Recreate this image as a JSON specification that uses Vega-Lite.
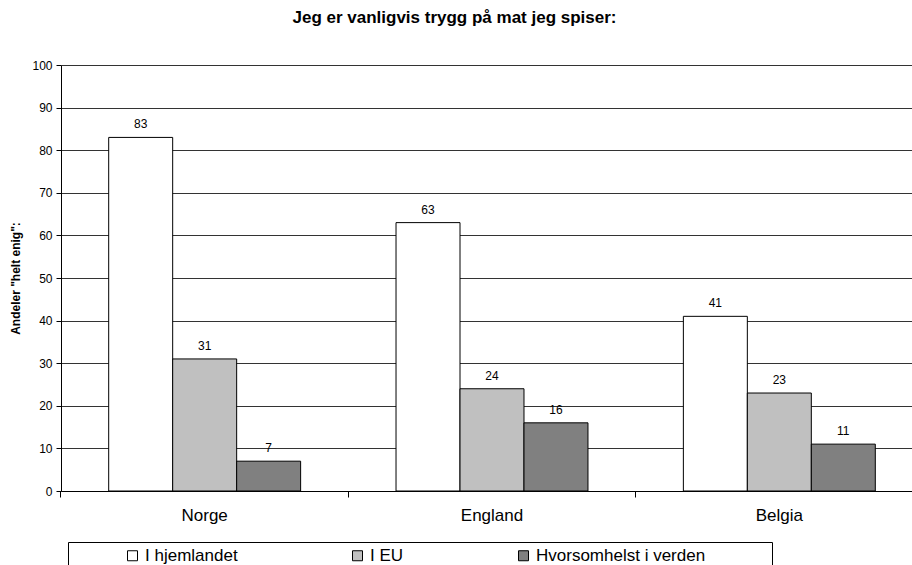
{
  "$schema": "https://vega.github.io/schema/vega-lite/v6.json",
  "autosize": {"type": "none"},
  "width": 851,
  "height": 426,
  "padding": {"left": 61, "top": 65, "right": 0, "bottom": 74},
  "background": "white",
  "config": {
    "view": {"stroke": null},
    "font": "Liberation Sans",
    "text": {"font": "Liberation Sans"}
  },
  "title": {
    "text": "Jeg er vanligvis trygg på mat jeg spiser:",
    "fontSize": 17,
    "fontWeight": "bold",
    "font": "Liberation Sans",
    "color": "black",
    "anchor": "middle",
    "baseline": "alphabetic",
    "offset": 19,
    "dx": -32
  },
  "data": {
    "values": [
      {"country": "Norge", "series": "I hjemlandet", "value": 83},
      {"country": "Norge", "series": "I EU", "value": 31},
      {"country": "Norge", "series": "Hvorsomhelst i verden", "value": 7},
      {"country": "England", "series": "I hjemlandet", "value": 63},
      {"country": "England", "series": "I EU", "value": 24},
      {"country": "England", "series": "Hvorsomhelst i verden", "value": 16},
      {"country": "Belgia", "series": "I hjemlandet", "value": 41},
      {"country": "Belgia", "series": "I EU", "value": 23},
      {"country": "Belgia", "series": "Hvorsomhelst i verden", "value": 11}
    ]
  },
  "layer": [
    {
      "mark": {"type": "bar", "stroke": "black", "strokeWidth": 1},
      "encoding": {
        "x": {
          "field": "country", "type": "nominal",
          "scale": {"domain": ["Norge", "England", "Belgia"], "range": [0, 862], "paddingInner": 0.332, "paddingOuter": 0.166},
          "axis": {"orient": "bottom", "title": null, "ticks": false, "labelPadding": 16, "labelFontSize": 17, "labelColor": "black", "labelFont": "Liberation Sans", "domainColor": "black", "labelAngle": 0, "grid": false}
        },
        "xOffset": {
          "field": "series", "type": "nominal",
          "scale": {"domain": ["I hjemlandet", "I EU", "Hvorsomhelst i verden"], "paddingInner": 0, "paddingOuter": 0}
        },
        "y": {
          "field": "value", "type": "quantitative",
          "scale": {"domain": [0, 100], "nice": false},
          "axis": {
            "title": "Andeler \"helt enig\":",
            "titleFontSize": 12, "titleFontWeight": "bold", "titleColor": "black", "titleFont": "Liberation Sans", "titlePadding": 9,
            "values": [0, 10, 20, 30, 40, 50, 60, 70, 80, 90, 100],
            "labelFontSize": 12, "labelColor": "black", "labelFont": "Liberation Sans", "labelPadding": 4,
            "tickSize": 5, "tickColor": "black", "domainColor": "black",
            "grid": true, "gridColor": "black", "gridWidth": 1, "gridOpacity": 0.8
          }
        },
        "fill": {
          "field": "series", "type": "nominal",
          "scale": {"domain": ["I hjemlandet", "I EU", "Hvorsomhelst i verden"], "range": ["#ffffff", "#c0c0c0", "#808080"]},
          "legend": {
            "orient": "none", "legendX": 7, "legendY": 477,
            "direction": "horizontal",
            "title": "\u00a0", "titleOrient": "left", "titlePadding": 51, "titleFontSize": 16,
            "padding": 5, "strokeColor": "black",
            "symbolType": "square", "symbolSize": 100, "symbolStrokeColor": "black", "symbolStrokeWidth": 1,
            "labelFontSize": 17, "labelColor": "black", "labelFont": "Liberation Sans", "labelOffset": 4,
            "columnPadding": 111, "labelLimit": 500,
            "labelExpr": "datum.label === 'Hvorsomhelst i verden' ? datum.label + '\u00a0\u00a0\u00a0\u00a0\u00a0\u00a0\u00a0\u00a0\u00a0\u00a0\u00a0\u00a0\u00a0\u200b' : datum.label"
          }
        }
      }
    },
    {
      "mark": {"type": "text", "dy": -13, "fontSize": 12, "color": "black", "font": "Liberation Sans"},
      "encoding": {
        "x": {
          "field": "country", "type": "nominal",
          "axis": {"orient": "bottom", "title": null, "labels": false, "domain": false, "grid": false, "ticks": true, "tickSize": 6, "tickColor": "black", "bandPosition": -0.2486}
        },
        "xOffset": {"field": "series", "type": "nominal"},
        "y": {"field": "value", "type": "quantitative"},
        "text": {"field": "value", "type": "quantitative"}
      }
    }
  ],
  "resolve": {"axis": {"x": "independent"}, "scale": {"x": "shared"}}
}
